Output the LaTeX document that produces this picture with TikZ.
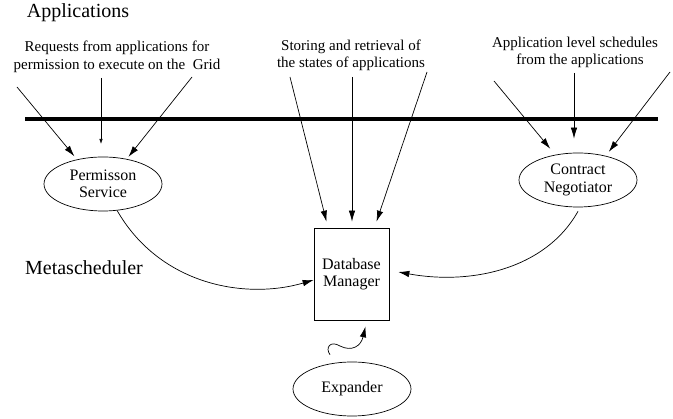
\documentclass[tikz,border=0pt]{standalone}
\usepackage{fontspec}
\setmainfont{Liberation Serif}
\usetikzlibrary{arrows.meta,shapes.geometric,calc}

\tikzset{
  flow/.style={line width=0.7pt, -{Latex[length=11pt,width=6.5pt]}},
  smallflow/.style={line width=0.7pt, -{Latex[length=5pt,width=3.5pt]}},
  service/.style={draw, line width=0.7pt, ellipse, minimum width=118pt,
    minimum height=54pt, inner sep=0pt, align=center,
    font=\fontsize{16}{17.5}\selectfont},
  store/.style={draw, line width=0.7pt, rectangle, minimum width=75pt,
    minimum height=92pt, inner sep=0pt, align=center,
    font=\fontsize{16}{17.5}\selectfont},
  caption/.style={align=center, font=\fontsize{15}{17.5}\selectfont, inner sep=0pt},
  layer/.style={font=\fontsize{20}{22}\selectfont, inner sep=0pt}
}

\begin{document}
\begin{tikzpicture}[x=1pt,y=-1pt]
\useasboundingbox (0,0) rectangle (673,419);

% layer titles
\node[layer] (apps) at (78,13) {Applications};
\node[layer] (meta) at (84,268) {Metascheduler};

% boundary between the application layer and the metascheduler
\coordinate (barL) at (25,119);
\coordinate (barR) at (658,119);
\draw[line width=3.5pt] (barL) -- (barR);

% components
\node[service] (perm) at (103,184) {Permisson\\Service};
\node[service] (neg)  at (578,180) {Contract\\Negotiator};
\node[store]   (db)   at (351.5,274) {Database\\Manager};
\node[service] (exp)  at (352,389) {Expander};

% incoming traffic captions
\node[caption] (capL) at (117,57) {Requests from applications for\\permission to execute on the\ \ Grid};
\node[caption] (capM) at (351,55.5) {Storing and retrieval of\\the states of applications};
\node[caption] (capR) at (575,52.5) {Application level schedules\\\hspace*{10pt}from the applications};

% permission requests
\coordinate (pa) at (17,87);
\coordinate (pb) at (101,78);
\coordinate (pbe) at (101,144);
\coordinate (pc) at (192,77);
\draw[flow] (pa) -- ([shift={(-3pt,3pt)}]perm.136);
\draw[smallflow] (pb) -- (pbe);
\draw[flow] (pc) -- ([shift={(2pt,2pt)}]perm.47);

% state storage and retrieval
\coordinate (sa) at (290,77);
\coordinate (sb) at (352,77);
\coordinate (sc) at (427,72);
\draw[flow] (sa) -- ([xshift=-25pt,yshift=6pt]db.north);
\draw[flow] (sb) -- ([xshift=0.5pt,yshift=6pt]db.north);
\draw[flow] (sc) -- ([xshift=25pt,yshift=6pt]db.north);

% application level schedules
\coordinate (na) at (494,81);
\coordinate (nb) at (574,73);
\coordinate (nc) at (670,72);
\draw[flow] (na) -- ([shift={(-5pt,6pt)}]neg.132);
\draw[flow] (nb) -- ([xshift=-4pt,yshift=14pt]neg.north);
\draw[flow] (nc) -- ([shift={(3pt,4pt)}]neg.41);

% internal links to the database manager
\draw[flow] (perm.-62) .. controls (160,285) and (245,300) .. ([yshift=-6pt]db.west);
\draw[flow] ([yshift=-4pt]neg.south) .. controls (545,270) and (470,285) .. ([xshift=9pt,yshift=2pt]db.east);
\draw[flow] ([xshift=-22pt,yshift=7pt]exp.north)
  .. controls (325,348) and (330,340) .. (340,346)
  .. controls (352,352) and (361,346) .. ([xshift=14pt,yshift=-6pt]db.south);
\end{tikzpicture}
\end{document}
